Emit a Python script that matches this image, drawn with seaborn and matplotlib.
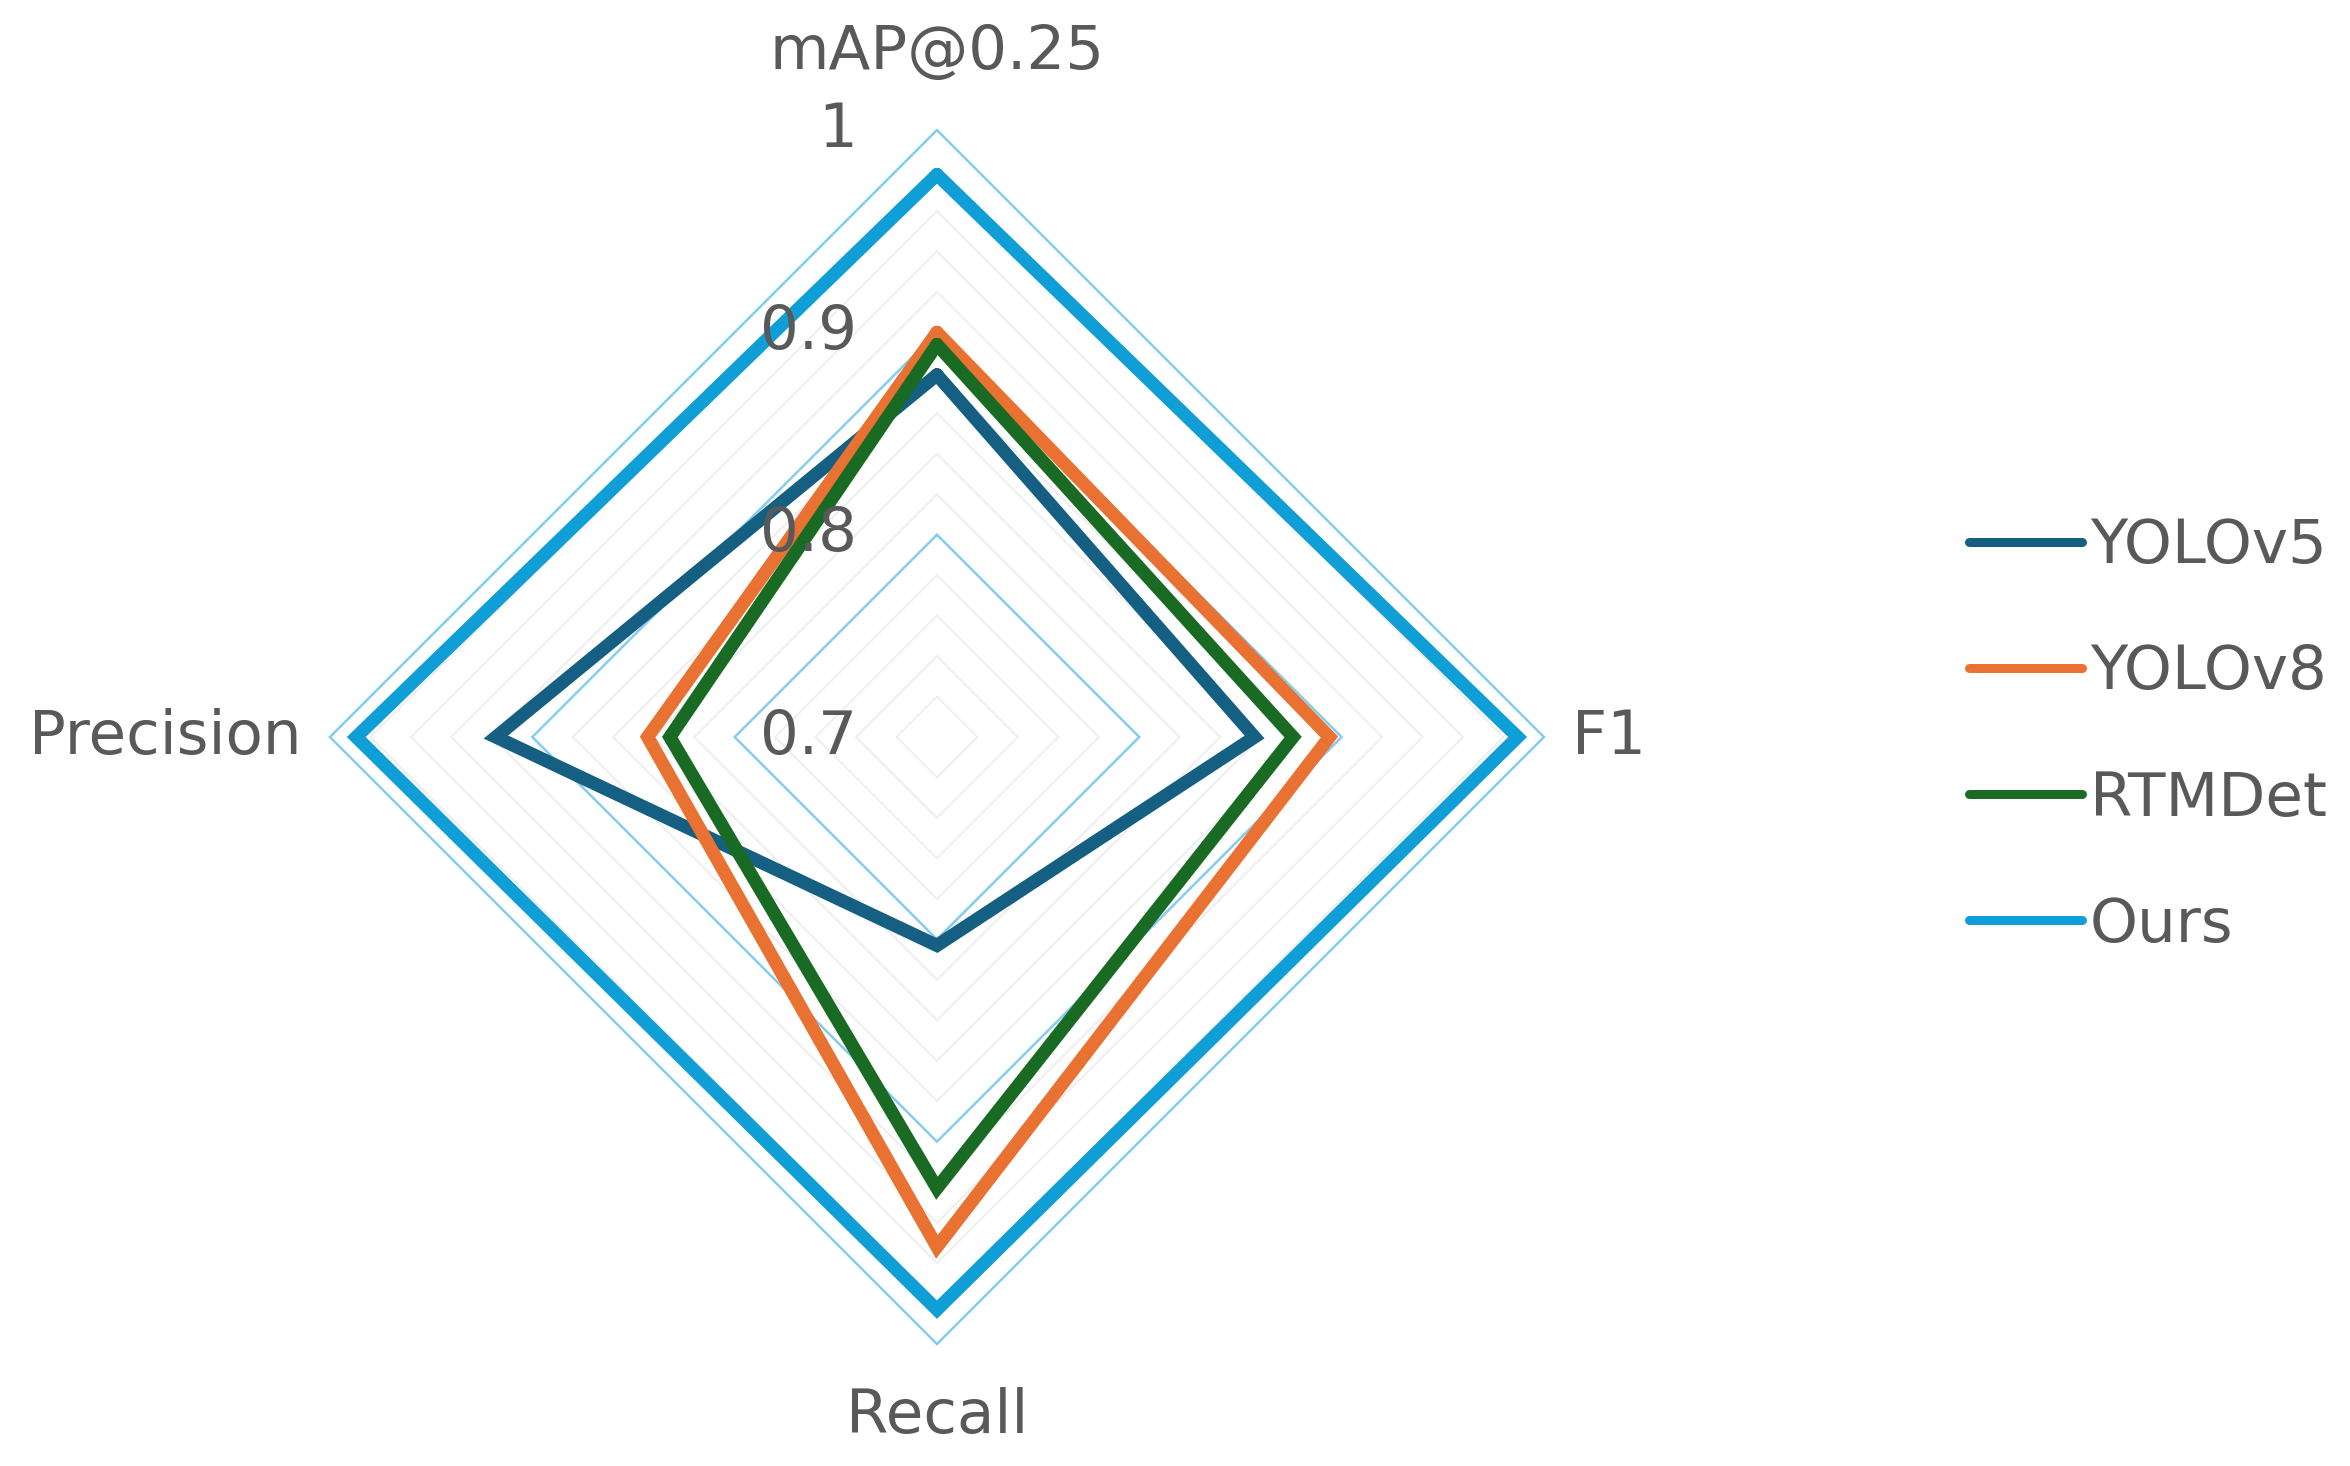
import numpy as np
import pandas as pd
import seaborn as sns
import matplotlib.pyplot as plt
from matplotlib.lines import Line2D

# ======= data =======
metrics = ["mAP@0.25", "F1", "Recall", "Precision"]
models = ["YOLOv5", "YOLOv8", "RTMDet", "Ours"]
yolov5 = [0.879, 0.857, 0.803, 0.918]
yolov8 = [0.900, 0.894, 0.952, 0.843]
rtmdet = [0.894, 0.876, 0.923, 0.832]
ours = [0.978, 0.987, 0.983, 0.987]
colors = ["#156082", "#E97132", "#196B24", "#0F9ED5"]
r_ticks = [0.7, 0.8, 0.9, 1.0]
r_tick_labels = ["0.7", "0.8", "0.9", "1"]
# ==========================================================

sns.set_theme(style="white")
plt.rcParams["font.family"] = ["DejaVu Sans"]
text_col = "#595959"
fs = 44

angles = np.linspace(0, 2 * np.pi, len(metrics), endpoint=False)

# long-form table, each polygon closed by repeating the first point
rows = []
for name, vals in zip(models, [yolov5, yolov8, rtmdet, ours]):
    for i in range(len(metrics)):
        rows.append({"model": name, "angle": angles[i], "value": vals[i]})
    rows.append({"model": name, "angle": 2 * np.pi, "value": vals[0]})
df = pd.DataFrame(rows)

fig = plt.figure(figsize=(23.5, 14.66), dpi=100)
ax = fig.add_axes([0.1404, 0.0832, 0.5166, 0.8281], projection="polar")
ax.set_theta_offset(np.pi / 2)
ax.set_theta_direction(-1)
ax.set_ylim(0.7, 1.0)
ax.grid(False)
ax.spines["polar"].set_visible(False)
ax.set_xticks([])
ax.set_yticks([])

# polygon grid: minor every 0.02 (light gray), major every 0.1 (light blue)
ring_ang = np.append(angles, 2 * np.pi)
for lev in np.arange(0.72, 1.001, 0.02):
    major = abs(lev * 10 - round(lev * 10)) < 1e-6
    ax.plot(ring_ang, [lev] * len(ring_ang),
            color="#86CCEE" if major else "#EEEEEE",
            lw=1.8 if major else 1.4, zorder=1, clip_on=False,
            solid_joinstyle="miter")

sns.lineplot(data=df, x="angle", y="value", hue="model", hue_order=models,
             palette=colors, sort=False, estimator=None, legend=False,
             linewidth=9.5, ax=ax, zorder=3)
for ln in ax.lines[-4:]:
    ln.set_solid_joinstyle("miter")
    ln.set_clip_on(False)
ax.set_xlabel("")
ax.set_ylabel("")

# axis (category) labels
offsets = [(0, 78, "center", "center"), (28, 0, "left", "center"),
           (0, -72, "center", "center"), (-28, 0, "right", "center")]
for ang, lab, (dx, dy, ha, va) in zip(angles, metrics, offsets):
    ax.annotate(lab, xy=(ang, 1.0), xytext=(dx, dy), textcoords="offset pixels",
                ha=ha, va=va, fontsize=fs, color=text_col, annotation_clip=False)

# radial tick labels along the top axis
for v, lab in zip(r_ticks, r_tick_labels):
    ax.annotate(lab, xy=(0, v), xytext=(-80, 0), textcoords="offset pixels",
                ha="right", va="center", fontsize=fs, color=text_col,
                annotation_clip=False, zorder=5)

handles = [Line2D([0], [0], color=c, lw=6.5) for c in colors]
fig.legend(handles, models, loc="center left", bbox_to_anchor=(0.838, 0.498),
           frameon=False, fontsize=fs, handlelength=1.85, handletextpad=0.12,
           labelspacing=1.1, borderpad=0, borderaxespad=0, labelcolor=text_col)

fig.savefig("out.png", dpi=100, facecolor="white")
